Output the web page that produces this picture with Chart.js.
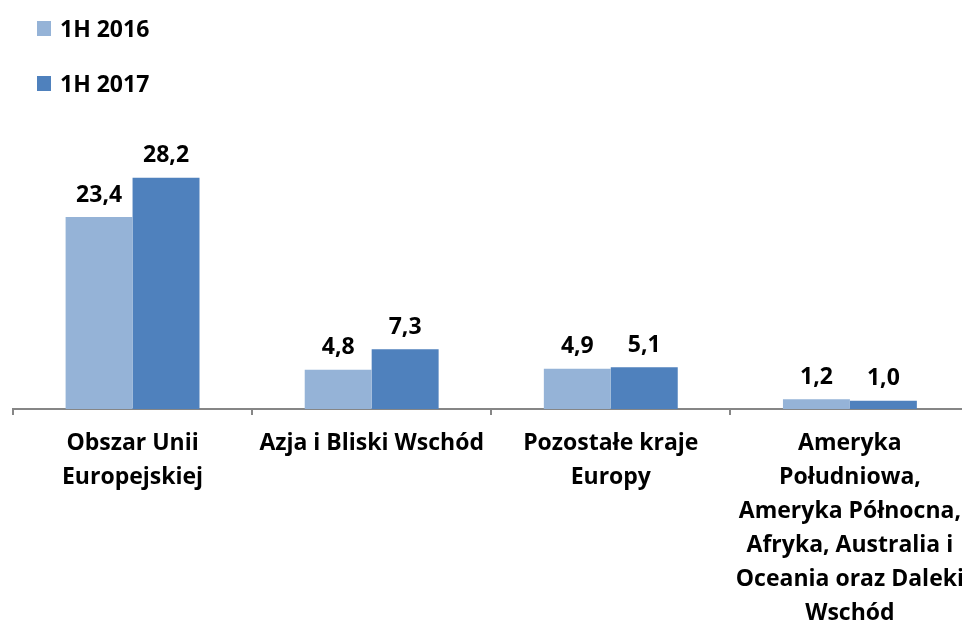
<!DOCTYPE html>
<html>
<head>
<meta charset="utf-8">
<script src="https://cdn.jsdelivr.net/npm/chart.js@4/dist/chart.umd.min.js"></script>
<style>
  html, body { margin: 0; padding: 0; background: #fff; overflow: hidden; }
  #wrap { position: relative; width: 975px; height: 623px; }
  .legend { position: absolute; left: 37px; font: bold 23px "Open Sans", sans-serif; color: #000; display: flex; align-items: center; }
  .legend span.box { width: 14px; height: 15px; display: inline-block; margin-right: 9px; }
</style>
</head>
<body>
<div id="wrap">
  <canvas id="chart"></canvas>
  <div class="legend" style="top:12px"><span class="box" style="background:#95B3D7"></span>1H 2016</div>
  <div class="legend" style="top:67px"><span class="box" style="background:#4F81BD"></span>1H 2017</div>
</div>
<script>
// ===============================================
// DATA
// ===============================================
const categories = [
    ['Obszar Unii', 'Europejskiej'],
    ['Azja i Bliski Wschód'],
    ['Pozostałe kraje', 'Europy'],
    ['Ameryka', 'Południowa,', 'Ameryka Północna,', 'Afryka, Australia i', 'Oceania oraz Daleki', 'Wschód']
];
const seriesNames = ['1H 2016', '1H 2017'];
const values2016 = [23.4, 4.8, 4.9, 1.2];
const values2017 = [28.2, 7.3, 5.1, 1.0];

const FONT = '"Open Sans", sans-serif';

function fmt(v) {
    return v.toFixed(1).replace('.', ',');
}

// value labels above bars
const valueLabels = {
    id: 'valueLabels',
    afterDatasetsDraw(chart) {
        const ctx = chart.ctx;
        ctx.save();
        ctx.font = 'bold 23px ' + FONT;
        ctx.fillStyle = '#000';
        ctx.textAlign = 'center';
        ctx.textBaseline = 'middle';
        chart.data.datasets.forEach((ds, i) => {
            chart.getDatasetMeta(i).data.forEach((bar, j) => {
                ctx.fillText(fmt(ds.data[j]), bar.x, bar.y - 22);
            });
        });
        ctx.restore();
    }
};

new Chart(document.getElementById('chart'), {
    type: 'bar',
    data: {
        labels: categories,
        datasets: [{
            label: seriesNames[0],
            data: values2016,
            backgroundColor: '#95B3D7',
            categoryPercentage: 0.56,
            barPercentage: 1
        }, {
            label: seriesNames[1],
            data: values2017,
            backgroundColor: '#4F81BD',
            categoryPercentage: 0.56,
            barPercentage: 1
        }]
    },
    options: {
        responsive: true,
        maintainAspectRatio: false,
        animation: false,
        layout: { padding: { left: 13, top: 163, right: 0, bottom: 0 } },
        plugins: {
            legend: { display: false },
            tooltip: { enabled: false }
        },
        scales: {
            x: {
                border: { display: true, color: '#868686', width: 2 },
                grid: {
                    offset: true,
                    drawOnChartArea: false,
                    drawTicks: true,
                    tickLength: 6,
                    color: '#868686',
                    lineWidth: 2
                },
                ticks: {
                    color: '#000',
                    font: { family: FONT, size: 23, weight: 'bold', lineHeight: 1.48 },
                    padding: 11,
                    maxRotation: 0,
                    autoSkip: false
                },
                afterFit(scale) { scale.height = 214; }
            },
            y: {
                display: false,
                min: 0,
                max: 30
            }
        }
    },
    plugins: [valueLabels]
});
</script>
</body>
</html>
